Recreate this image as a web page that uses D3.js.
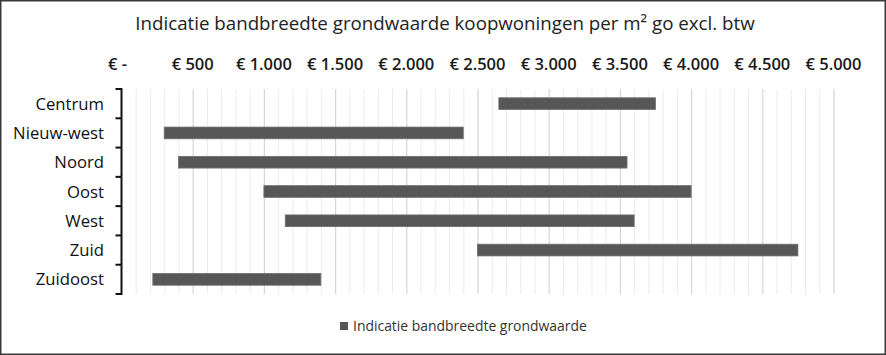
<!DOCTYPE html>
<html><head><meta charset="utf-8">
<script src="https://cdn.jsdelivr.net/npm/d3@7"></script>
<style>
html,body{margin:0;padding:0;background:#fff;}
svg{display:block;}
text{font-family:"Open Sans","Noto Sans",sans-serif;}
</style></head>
<body>
<svg id="chart" width="886" height="355"></svg>
<script>
const title = "Indicatie bandbreedte grondwaarde koopwoningen per m² go excl. btw";
const categories = ["Centrum","Nieuw-west","Noord","Oost","West","Zuid","Zuidoost"];
const startValues = [2650, 300, 400, 1000, 1150, 2500, 220];
const endValues   = [3750, 2400, 3550, 4000, 3600, 4750, 1400];
const tickValues = [0,500,1000,1500,2000,2500,3000,3500,4000,4500,5000];
const tickLabels = ["€ -","€ 500","€ 1.000","€ 1.500","€ 2.000","€ 2.500","€ 3.000","€ 3.500","€ 4.000","€ 4.500","€ 5.000"];
const legendLabel = "Indicatie bandbreedte grondwaarde";

const svg = d3.select("#chart");
const W = 886, H = 355;

svg.append("rect").attr("x",0.75).attr("y",0.75).attr("width",W-1.5).attr("height",H-1.5)
  .attr("fill","#fff").attr("stroke","#3a3a3a").attr("stroke-width",1.5);

const x = d3.scaleLinear().domain([0,5000]).range([121.5,833.5]);
const y = d3.scaleBand().domain(categories).range([89,294]).paddingInner(0.6).paddingOuter(0.3);

function fit(sel, target, base){
  sel.attr("font-size", base);
  const w = sel.node().getComputedTextLength();
  sel.attr("font-size", base*target/w);
}

// gridlines
const g = svg.append("g");
g.selectAll("line.minor").data(d3.range(100,5001,100).filter(v=>v%500!==0)).enter()
  .append("line").attr("x1",d=>x(d)+0.5).attr("x2",d=>x(d)+0.5).attr("y1",89).attr("y2",294)
  .attr("stroke","#ececec").attr("stroke-width",1);
g.selectAll("line.major").data(tickValues.filter(v=>v>0)).enter()
  .append("line").attr("x1",d=>x(d)+0.5).attr("x2",d=>x(d)+0.5).attr("y1",89).attr("y2",294)
  .attr("stroke","#d6d6d6").attr("stroke-width",1.2);

// bars
svg.append("g").selectAll("rect").data(categories).enter().append("rect")
  .attr("x",(d,i)=>x(startValues[i]))
  .attr("width",(d,i)=>x(endValues[i])-x(startValues[i]))
  .attr("y",d=>y(d))
  .attr("height",y.bandwidth())
  .attr("fill","#575757").attr("stroke","#6e6e6e").attr("stroke-width",0.8);

// category axis
const ax = svg.append("g");
ax.append("line").attr("x1",x(0)).attr("x2",x(0)).attr("y1",88).attr("y2",295)
  .attr("stroke","#111").attr("stroke-width",2);
ax.selectAll("line.t").data(d3.range(categories.length+1)).enter().append("line")
  .attr("x1",x(0)-6).attr("x2",x(0)).attr("y1",i=>89+i*y.step()).attr("y2",i=>89+i*y.step())
  .attr("stroke","#111").attr("stroke-width",2);
const catT = ax.selectAll("text").data(categories).enter().append("text")
  .attr("x",104).attr("y",d=>y(d)+y.bandwidth()/2).attr("dy","0.36em")
  .attr("text-anchor","end").attr("fill","#111").text(d=>d);
const ref = catT.filter(d=>d==="Nieuw-west");
ref.attr("font-size",15);
const wr = ref.node().getComputedTextLength();
catT.attr("font-size",15*91/wr);

// top tick labels
const tl = svg.append("g").selectAll("text").data(tickValues).enter().append("text")
  .attr("x",(d,i)=>x(d)-(d===0?4:0)).attr("y",70).attr("text-anchor","middle")
  .attr("fill","#1a1a1a").attr("font-weight","600").text((d,i)=>tickLabels[i]);
const r2 = tl.filter(d=>d===1000);
r2.attr("font-size",14);
const w2 = r2.node().getComputedTextLength();
tl.attr("font-size",14*56/w2);

// title
const tt = svg.append("text").attr("x",445).attr("y",30).attr("text-anchor","middle")
  .attr("fill","#222").text(title);
fit(tt, 620, 18);

// legend
const lg = svg.append("g");
lg.append("rect").attr("x",340).attr("y",322).attr("width",8).attr("height",8).attr("fill","#575757");
const lt = lg.append("text").attr("x",353).attr("y",326).attr("dy","0.36em").attr("fill","#333").text(legendLabel);
fit(lt, 234, 14);
</script>
</body></html>
